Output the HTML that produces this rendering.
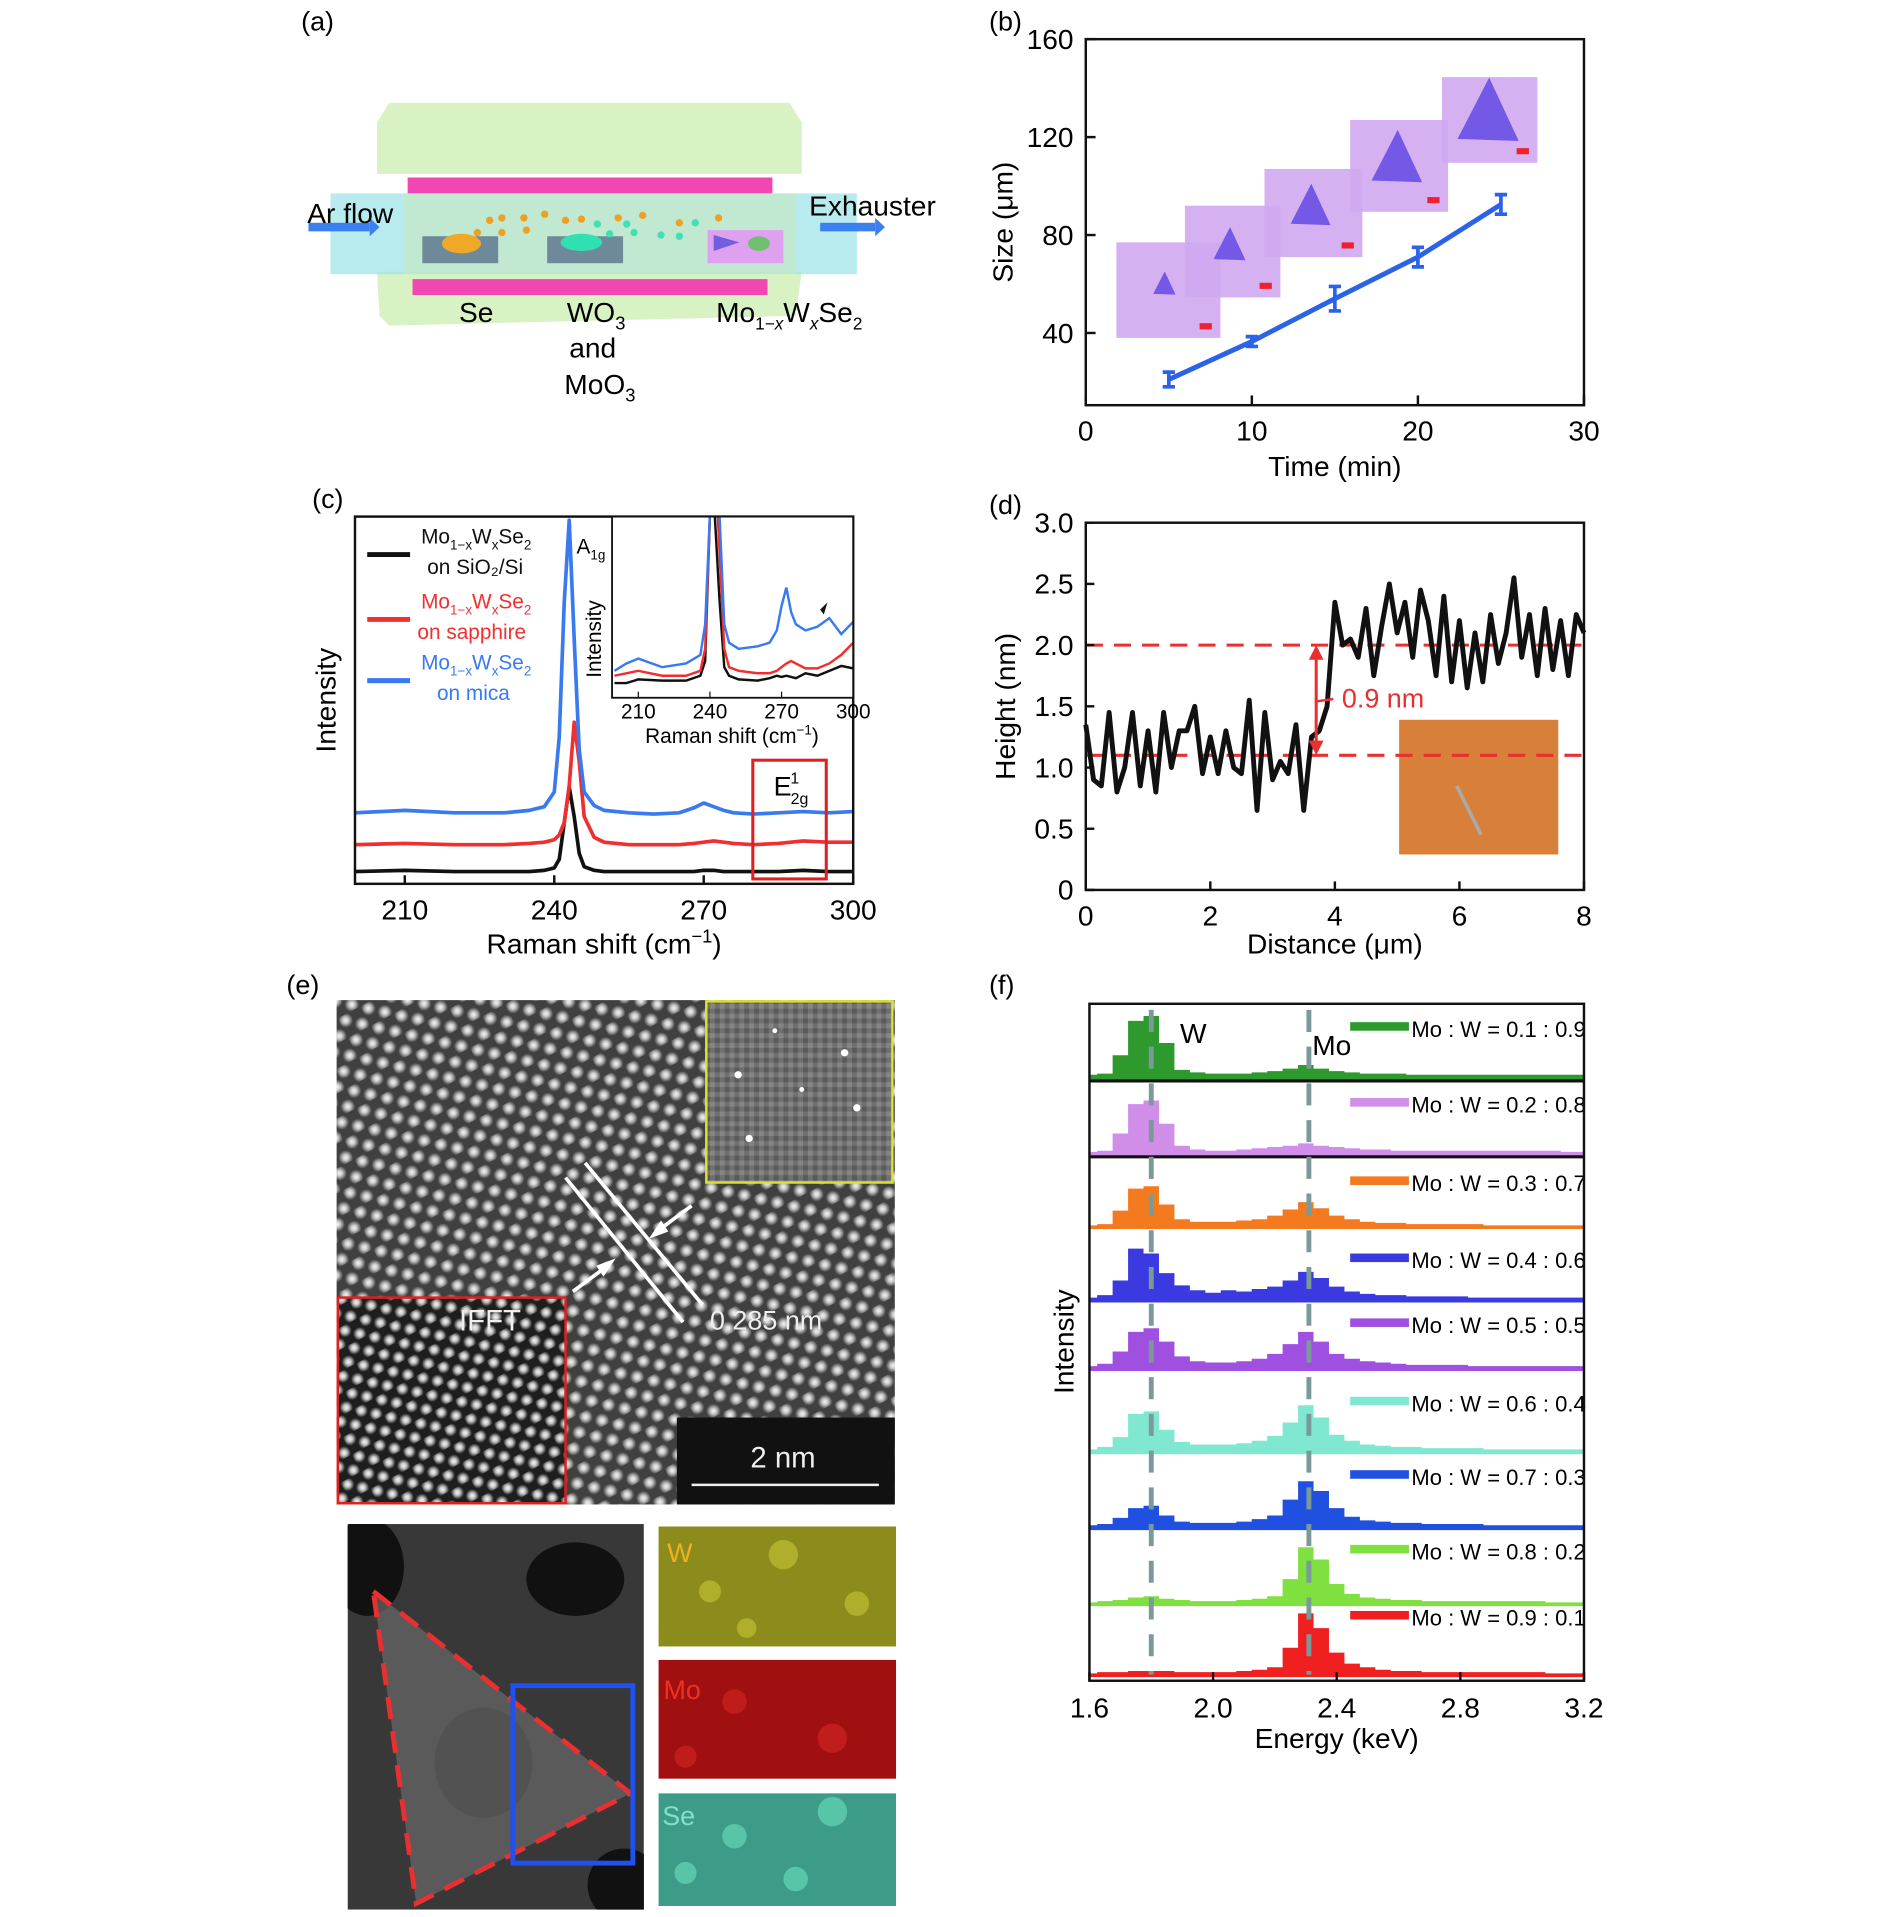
<!DOCTYPE html>
<html><head><meta charset="utf-8">
<style>
html,body{margin:0;padding:0;background:#fff;}
svg{display:block;font-family:"Liberation Sans",Arial,sans-serif;}
</style></head>
<body>
<svg id="fig" width="1890" height="1917" viewBox="0 0 1544 1566" preserveAspectRatio="none" xmlns="http://www.w3.org/2000/svg">
<defs>
  <radialGradient id="dotg"><stop offset="0" stop-color="#f4f4f4"/><stop offset="0.4" stop-color="#c8c8c8"/><stop offset="1" stop-color="#c8c8c8" stop-opacity="0"/></radialGradient>
  <pattern id="lattice" width="21" height="18" patternUnits="userSpaceOnUse" patternTransform="rotate(-28)">
    <rect width="21" height="18" fill="#404040"/>
    <circle cx="5" cy="4.5" r="6" fill="url(#dotg)"/>
    <circle cx="15.5" cy="13.5" r="6" fill="url(#dotg)"/>
  </pattern>
  <pattern id="lattice2" width="19" height="16" patternUnits="userSpaceOnUse" patternTransform="rotate(-28)">
    <rect width="19" height="16" fill="#1e1e1e"/>
    <circle cx="4.5" cy="4" r="5.5" fill="url(#dotg)"/>
    <circle cx="14" cy="12" r="5.5" fill="url(#dotg)"/>
  </pattern>
  <pattern id="noise" width="8" height="8" patternUnits="userSpaceOnUse">
    <rect width="8" height="8" fill="#707070"/><rect width="4" height="4" fill="#5a5a5a"/><rect x="4" y="4" width="4" height="4" fill="#858585"/>
  </pattern>
  <clipPath id="clipC"><rect x="290" y="422" width="407" height="300"/></clipPath>
  <clipPath id="clipCi"><rect x="500" y="422" width="197" height="148"/></clipPath>
  <clipPath id="clipF"><rect x="890" y="820" width="404" height="553"/></clipPath>
  <clipPath id="clipStem"><rect x="284" y="1245" width="242" height="315"/></clipPath>
</defs>

<!-- ===== Panel (a) ===== -->
<g>
  <text x="246" y="25" font-size="22">(a)</text>
  <polygon points="318,84 645,84 655,100 655,142 308,142 308,100" fill="#d8f2c4"/>
  <polygon points="308,222 655,222 650,258 318,266 310,258" fill="#d8f2c4"/>
  <rect x="333" y="145" width="298" height="13" fill="#f048b0"/>
  <rect x="337" y="228" width="290" height="13" fill="#f048b0"/>
  <rect x="270" y="158" width="430" height="66" fill="#9fe4e8" opacity="0.75"/>
  <rect x="330" y="158" width="320" height="66" fill="#c8e8c0" opacity="0.6"/>
  <rect x="345" y="193" width="62" height="22" fill="#6e8a9a"/>
  <ellipse cx="377" cy="199" rx="16" ry="8" fill="#f0a828"/>
  <rect x="447" y="193" width="62" height="22" fill="#6e8a9a"/>
  <ellipse cx="475" cy="198" rx="17" ry="7" fill="#30e0b0"/>
  <rect x="578" y="188" width="62" height="27" fill="#e0a0f0"/>
  <polygon points="583,192 583,205 604,198" fill="#7060e0"/>
  <ellipse cx="620" cy="199" rx="9" ry="6" fill="#70c070"/>
  <g fill="#f0a020">
    <circle cx="400" cy="180" r="3"/><circle cx="410" cy="178" r="3"/><circle cx="390" cy="190" r="3"/><circle cx="428" cy="178" r="3"/><circle cx="445" cy="175" r="3"/><circle cx="462" cy="180" r="3"/><circle cx="475" cy="179" r="3"/><circle cx="505" cy="178" r="3"/><circle cx="525" cy="176" r="3"/><circle cx="555" cy="182" r="3"/><circle cx="587" cy="178" r="3"/><circle cx="410" cy="190" r="3"/><circle cx="430" cy="188" r="3"/>
  </g>
  <g fill="#40e0b0">
    <circle cx="488" cy="183" r="3"/><circle cx="512" cy="183" r="3"/><circle cx="498" cy="191" r="3"/><circle cx="518" cy="190" r="3"/><circle cx="540" cy="192" r="3"/><circle cx="568" cy="182" r="3"/><circle cx="555" cy="193" r="3"/>
  </g>
  <rect x="252" y="182" width="50" height="7" fill="#3a80f0"/><polygon points="302,178 310,185.5 302,193" fill="#3a80f0"/>
  <rect x="670" y="182" width="45" height="7" fill="#3a80f0"/><polygon points="715,178 723,185.5 715,193" fill="#3a80f0"/>
  <text x="251" y="182" font-size="23">Ar flow</text>
  <text x="661" y="176" font-size="23">Exhauster</text>
  <text x="375" y="263" font-size="23">Se</text>
  <text x="463" y="263" font-size="23">WO<tspan font-size="15" dy="6">3</tspan></text>
  <text x="465" y="292" font-size="23">and</text>
  <text x="461" y="322" font-size="23">MoO<tspan font-size="15" dy="6">3</tspan></text>
  <text x="585" y="263" font-size="23">Mo<tspan font-size="14" dy="6">1−<tspan font-style="italic">x</tspan></tspan><tspan dy="-6">W</tspan><tspan font-size="14" dy="6" font-style="italic">x</tspan><tspan dy="-6">Se</tspan><tspan font-size="14" dy="6">2</tspan></text>
</g>

<!-- ===== Panel (b) ===== -->
<g id="panelB">
  <text x="808" y="25" font-size="22">(b)</text>
</g>

<!-- ===== Panel (c) ===== -->
<g id="panelC">
  <text x="255" y="415" font-size="22">(c)</text>
</g>

<!-- ===== Panel (d) ===== -->
<g id="panelD">
  <text x="808" y="420" font-size="22">(d)</text>
</g>

<!-- ===== Panel (e) ===== -->
<g>
  <text x="234" y="812" font-size="22">(e)</text>
  <rect x="275" y="817" width="456" height="412" fill="url(#lattice)"/>
  <rect x="577" y="818" width="152" height="148" fill="url(#noise)" stroke="#e0e030" stroke-width="2"/>
  <g fill="#fff"><circle cx="603" cy="878" r="3"/><circle cx="700" cy="905" r="3"/><circle cx="633" cy="842" r="2"/><circle cx="612" cy="930" r="3"/><circle cx="690" cy="860" r="3"/><circle cx="655" cy="890" r="2"/></g>
  <rect x="276" y="1060" width="186" height="168" fill="url(#lattice2)" stroke="#e02020" stroke-width="2"/>
  <text x="375" y="1087" font-size="24" fill="#eee">IFFT</text>
  <rect x="553" y="1158" width="178" height="71" fill="#111"/>
  <text x="613" y="1199" font-size="24" fill="#eee">2 nm</text>
  <line x1="565" y1="1213" x2="718" y2="1213" stroke="#eee" stroke-width="2"/>
  <line x1="462" y1="962" x2="558" y2="1080" stroke="#fff" stroke-width="3"/>
  <line x1="478" y1="950" x2="574" y2="1066" stroke="#fff" stroke-width="3"/>
  <line x1="565" y1="985" x2="538" y2="1005" stroke="#fff" stroke-width="3"/><polygon points="530,1012 540,997 546,1006" fill="#fff"/>
  <line x1="468" y1="1055" x2="495" y2="1035" stroke="#fff" stroke-width="3"/><polygon points="503,1028 493,1043 487,1034" fill="#fff"/>
  <text x="580" y="1086" font-size="22" fill="#eee">0.285 nm</text>

  <g clip-path="url(#clipStem)">
  <rect x="284" y="1245" width="242" height="315" fill="#383838"/>
  <ellipse cx="300" cy="1280" rx="30" ry="40" fill="#111"/><ellipse cx="470" cy="1290" rx="40" ry="30" fill="#111"/><ellipse cx="510" cy="1540" rx="30" ry="30" fill="#111"/><ellipse cx="395" cy="1440" rx="40" ry="45" fill="#1a1a1a"/>
  <polygon points="305,1300 515,1465 340,1555" fill="#666" opacity="0.75"/>
  <polygon points="305,1300 515,1465 340,1555" fill="none" stroke="#e83030" stroke-width="4" stroke-dasharray="18,10"/>
  <rect x="419" y="1377" width="98" height="145" fill="none" stroke="#2050f0" stroke-width="4"/>
  </g>
  <rect x="538" y="1247" width="194" height="98" fill="#8c8c1c"/>
  <g fill="#b8b830" opacity="0.8"><circle cx="580" cy="1300" r="9"/><circle cx="640" cy="1270" r="12"/><circle cx="700" cy="1310" r="10"/><circle cx="610" cy="1330" r="8"/></g>
  <text x="545" y="1276" font-size="22" fill="#f0b020">W</text>
  <rect x="538" y="1356" width="194" height="97" fill="#a01010"/>
  <g fill="#c82020" opacity="0.8"><circle cx="600" cy="1390" r="10"/><circle cx="680" cy="1420" r="12"/><circle cx="560" cy="1435" r="9"/></g>
  <text x="542" y="1388" font-size="22" fill="#f03020">Mo</text>
  <rect x="538" y="1465" width="194" height="92" fill="#3c9c88"/>
  <g fill="#60d0b0" opacity="0.8"><circle cx="600" cy="1500" r="10"/><circle cx="680" cy="1480" r="12"/><circle cx="650" cy="1535" r="10"/><circle cx="560" cy="1530" r="9"/></g>
  <text x="541" y="1491" font-size="22" fill="#80e0c8">Se</text>
</g>

<!-- ===== Panel (f) ===== -->
<g id="panelF">
  <text x="808" y="812" font-size="22">(f)</text>
</g>
</svg>

<script>
const NS='http://www.w3.org/2000/svg';
function mk(parent,tag,attrs,text){const e=document.createElementNS(NS,tag);for(const k in attrs)e.setAttribute(k,attrs[k]);if(text!==undefined)e.textContent=text;parent.appendChild(e);return e;}

/* ---------- Panel B data ---------- */
const bTimes=[5,10,15,20,25];
const bSizes=[21,36.5,54,71,92.5];
const bErrors=[3,2,5,4,4];
const bXTicks=[0,10,20,30];
const bYTicks=[40,80,120,160];

/* ---------- Panel C data ---------- */
const cShift=[200,210,220,230,235,238,240,241,242,243,244,245,246,248,250,255,260,265,268,270,272,274,276,280,285,290,295,300];
const cBlack=[10,11,10,10,10,11,13,20,50,79,55,25,14,11,10,10,10,10,10,11,11,10,10,10,10,11,10,10];
const cRed=[32,33,32,32,33,34,36,40,50,80,132,100,55,38,34,32,32,32,33,34,35,34,33,32,33,35,34,34];
const cBlue=[58,60,58,58,60,63,75,120,230,297,200,110,75,64,60,58,57,58,62,66,63,60,58,57,58,59,58,59];
const cXTicks=[210,240,270,300];
const ciShift=[200,205,210,220,230,236,238,240,241,242,244,246,248,252,260,265,268,270,272,274,276,280,285,290,295,300];
const ciBlue=[22,28,32,25,28,35,60,150,200,200,150,60,45,40,42,45,55,75,90,70,60,55,58,65,52,62];
const ciRed=[18,20,22,18,18,22,40,150,200,200,120,40,25,22,20,20,22,25,28,30,28,24,24,28,35,45];
const ciBlack=[12,12,15,14,14,18,30,150,200,150,80,25,18,15,14,16,18,17,18,17,16,20,18,22,26,24];

/* ---------- Panel D data ---------- */
const dDist=[0,0.125,0.25,0.375,0.5,0.625,0.75,0.875,1,1.125,1.25,1.375,1.5,1.625,1.75,1.875,2,2.125,2.25,2.375,2.5,2.625,2.75,2.875,3,3.125,3.25,3.375,3.5,3.625,3.75,3.875,4,4.125,4.25,4.375,4.5,4.625,4.75,4.875,5,5.125,5.25,5.375,5.5,5.625,5.75,5.875,6,6.125,6.25,6.375,6.5,6.625,6.75,6.875,7,7.125,7.25,7.375,7.5,7.625,7.75,7.875,8];
const dHeight=[1.35,0.9,0.85,1.45,0.8,1.0,1.45,0.85,1.3,0.8,1.45,1.0,1.3,1.3,1.5,0.95,1.25,0.95,1.3,1.0,0.95,1.55,0.65,1.45,0.9,1.05,0.95,1.35,0.65,1.25,1.3,1.5,2.35,2.0,2.05,1.9,2.3,1.75,2.15,2.5,2.1,2.35,1.9,2.45,2.2,1.75,2.4,1.7,2.2,1.65,2.1,1.7,2.25,1.85,2.1,2.55,1.9,2.25,1.75,2.3,1.8,2.2,1.75,2.25,2.1];
const dLevels=[2.0,1.1];
const dXTicks=[0,2,4,6,8];
const dYTicks=[0,0.5,1.0,1.5,2.0,2.5,3.0];
const dYTickLabels=['0','0.5','1.0','1.5','2.0','2.5','3.0'];

/* ---------- Panel F data ---------- */
const fEnergyStart=1.6, fEnergyStep=0.05;
const fLabels=['Mo : W = 0.1 : 0.9','Mo : W = 0.2 : 0.8','Mo : W = 0.3 : 0.7','Mo : W = 0.4 : 0.6','Mo : W = 0.5 : 0.5','Mo : W = 0.6 : 0.4','Mo : W = 0.7 : 0.3','Mo : W = 0.8 : 0.2','Mo : W = 0.9 : 0.1'];
const fS1=[4,5,20,48,52,30,8,6,5,5,5,6,7,9,12,9,7,6,5,5,5,4,4,4,4,4,4,4,4,4,4,4,4];
const fS2=[3,4,18,42,45,26,8,5,4,4,5,6,7,8,10,8,7,6,5,5,4,4,4,4,4,4,4,4,4,4,4,3,3];
const fS3=[3,4,15,33,35,20,8,6,6,6,7,8,11,16,22,17,11,8,6,5,5,4,4,4,4,4,3,3,3,3,3,3,3];
const fS4=[4,6,18,44,40,24,14,10,8,10,9,11,13,18,25,20,13,9,7,6,6,5,5,5,5,4,4,4,4,4,4,4,4];
const fS5=[4,6,16,32,35,24,12,8,7,7,8,10,14,22,32,24,14,10,8,7,6,5,5,5,5,4,4,4,4,4,4,4,4];
const fS6=[4,6,14,33,35,20,10,8,8,8,9,11,15,26,40,30,16,11,8,7,6,6,5,5,5,5,4,4,4,4,4,4,4];
const fS7=[4,5,10,18,20,12,7,6,6,6,7,9,12,25,40,32,18,11,8,7,6,6,5,5,5,5,4,4,4,4,4,4,4];
const fS8=[3,4,5,7,8,6,5,4,4,4,5,6,8,22,48,38,18,10,7,6,5,5,4,4,4,4,4,4,4,4,3,3,3];
const fS9=[3,4,4,5,5,5,4,4,4,4,5,6,8,24,52,40,20,11,8,6,5,5,4,4,4,4,4,4,4,4,3,3,3];
const fXTicks=[1.6,2.0,2.4,2.8,3.2];
const fXTickLabels=['1.6','2.0','2.4','2.8','3.2'];
const fPeakW=1.8, fPeakMo=2.31;

/* ================= Panel B ================= */
(function(){
  const g=document.getElementById('panelB');
  const L=887,R=1294,T=32,B=331, x0=0,x1=30, y0=10.5,y1=160;
  const X=v=>L+(v-x0)/(x1-x0)*(R-L), Y=v=>B-(v-y0)/(y1-y0)*(B-T);
  const ims=[[912,198,85,78,0.42],[968,168,78,75,0.6],[1033,138,80,72,0.75],[1103,98,80,75,0.95],[1178,63,78,70,1.15]];
  ims.forEach((m,i)=>{
    const r=mk(g,'rect',{x:m[0],y:m[1],width:m[2],height:m[3],fill:'#d0a8f0',opacity:0.9});
    
    
    const cx=m[0]+m[2]*0.45, cy=m[1]+m[3]*0.45, s=m[4]*30;
    mk(g,'polygon',{points:`${cx+s*0.1},${cy-s*0.9} ${cx-s*0.65},${cy+s*0.55} ${cx+s*0.8},${cy+s*0.6}`,fill:'#7458e6'});
    mk(g,'rect',{x:m[0]+m[2]-17,y:m[1]+m[3]-12,width:10,height:5,fill:'#f02030'});
  });
  const frame=mk(g,'rect',{x:L,y:T,width:R-L,height:B-T,fill:'none',stroke:'#111','stroke-width':2});
  
  
  bXTicks.forEach(v=>{mk(g,'line',{x1:X(v),y1:B,x2:X(v),y2:B-8,stroke:'#111','stroke-width':2});
    const t=mk(g,'text',{x:X(v),y:B+29,'font-size':23,'text-anchor':'middle'},String(v));
    
    });
  bYTicks.forEach(v=>{mk(g,'line',{x1:L,y1:Y(v),x2:L+8,y2:Y(v),stroke:'#111','stroke-width':2});
    const t=mk(g,'text',{x:L-10,y:Y(v)+8,'font-size':23,'text-anchor':'end'},String(v));
    
    });
  const xt=mk(g,'text',{x:(L+R)/2,y:B+58,'font-size':23,'text-anchor':'middle'},'Time (min)');
  
  
  const yt=mk(g,'text',{x:0,y:0,'font-size':23,'text-anchor':'middle',transform:`translate(827,${(T+B)/2}) rotate(-90)`},'Size (μm)');
  
  
  const line=mk(g,'polyline',{points:bTimes.map((t,i)=>X(t)+','+Y(bSizes[i])).join(' '),fill:'none',stroke:'#2a62e8','stroke-width':4});
  
  
  bTimes.forEach((t,i)=>{
    const e=mk(g,'path',{d:`M${X(t)},${Y(bSizes[i]-bErrors[i])}V${Y(bSizes[i]+bErrors[i])}M${X(t)-5},${Y(bSizes[i]-bErrors[i])}h10M${X(t)-5},${Y(bSizes[i]+bErrors[i])}h10`,stroke:'#2a62e8','stroke-width':3,fill:'none'});
    
    
  });
})();

/* ================= Panel C ================= */
(function(){
  const g=document.getElementById('panelC');
  const L=290,R=697,T=422,B=722,x0=200,x1=300,y0=0,y1=300;
  const X=v=>L+(v-x0)/(x1-x0)*(R-L), Y=v=>B-(v-y0)/(y1-y0)*(B-T);
  const cg=mk(g,'g',{'clip-path':'url(#clipC)'});
  [[cBlack,'#111','spectrum-sio2'],[cRed,'#f03030','spectrum-sapphire'],[cBlue,'#3a7af0','spectrum-mica']].forEach(s=>{
    const p=mk(cg,'polyline',{points:cShift.map((x,i)=>X(x)+','+Y(s[0][i])).join(' '),fill:'none',stroke:s[1],'stroke-width':3,'stroke-linejoin':'round'});
    
    
  });
  const fr=mk(g,'rect',{x:L,y:T,width:R-L,height:B-T,fill:'none',stroke:'#111','stroke-width':2});
  
  
  cXTicks.forEach(v=>{mk(g,'line',{x1:X(v),y1:B,x2:X(v),y2:B-7,stroke:'#111','stroke-width':2});
    const t=mk(g,'text',{x:X(v),y:B+29,'font-size':23,'text-anchor':'middle'},String(v));
    
    });
  const xt=mk(g,'text',{x:(L+R)/2,y:B+57,'font-size':23,'text-anchor':'middle'},'Raman shift (cm');
  mk(xt,'tspan',{'font-size':15,dy:-9},'−1');mk(xt,'tspan',{dy:9},')');
  
  
  const yt=mk(g,'text',{'font-size':23,'text-anchor':'middle',transform:`translate(274,572) rotate(-90)`},'Intensity');
  
  
  const eb=mk(g,'rect',{x:615,y:621,width:60,height:97,fill:'none',stroke:'#e02020','stroke-width':2.5});
  
  
  const e2=mk(g,'text',{x:632,y:650,'font-size':22},'E');
  mk(e2,'tspan',{'font-size':13,dy:-10,dx:-1},'1');mk(e2,'tspan',{'font-size':13,dy:17,dx:-7},'2g');
  
  
  const a1=mk(g,'text',{x:471,y:452,'font-size':17},'A');mk(a1,'tspan',{'font-size':11,dy:5},'1g');
  
  
  const leg=[['#111','on SiO₂/Si',437,463],['#f03030','on sapphire',490,516],['#3a7af0','on mica',540,566]];
  leg.forEach((l,i)=>{
    mk(g,'line',{x1:300,y1:l[2]+16,x2:335,y2:l[2]+16,stroke:l[0],'stroke-width':4});
    const t=mk(g,'text',{x:344,y:l[2]+7,'font-size':17,fill:l[0]},'Mo');
    mk(t,'tspan',{'font-size':11,dy:5},'1−x');mk(t,'tspan',{dy:-5},'W');mk(t,'tspan',{'font-size':11,dy:5},'x');mk(t,'tspan',{dy:-5},'Se');mk(t,'tspan',{'font-size':11,dy:5},'2');
    
    
    const t2=mk(g,'text',{x:i==0?349:(i==1?341:357),y:l[3]+6,'font-size':17,fill:l[0]},l[1]);
    
    
  });
  const iL=500,iR=697,iT=422,iB=570,ix0=199,ix1=300;
  const IX=v=>iL+(v-ix0)/(ix1-ix0)*(iR-iL), IY=v=>iB-v;
  mk(g,'rect',{x:iL,y:iT,width:iR-iL,height:iB-iT,fill:'#fff'});
  const ig=mk(g,'g',{'clip-path':'url(#clipCi)'});
  [[ciBlack,'#111'],[ciRed,'#f03030'],[ciBlue,'#3a7af0']].forEach(s=>{
    const p=mk(ig,'polyline',{points:ciShift.map((x,i)=>IX(x)+','+IY(s[0][i])).join(' '),fill:'none',stroke:s[1],'stroke-width':2});
    
    
  });
  const ifr=mk(g,'rect',{x:iL,y:iT,width:iR-iL,height:iB-iT,fill:'none',stroke:'#111','stroke-width':1.5});
  
  
  cXTicks.forEach(v=>{mk(g,'line',{x1:IX(v),y1:iB,x2:IX(v),y2:iB-5,stroke:'#111'});
    const t=mk(g,'text',{x:IX(v),y:iB+17,'font-size':17,'text-anchor':'middle'},String(v));
    
    });
  const ixt=mk(g,'text',{x:598,y:607,'font-size':17,'text-anchor':'middle'},'Raman shift (cm');
  mk(ixt,'tspan',{'font-size':11,dy:-7},'−1');mk(ixt,'tspan',{dy:7},')');
  
  
  const iyt=mk(g,'text',{'font-size':17,'text-anchor':'middle',transform:'translate(491,522) rotate(-90)'},'Intensity');
  
  
  mk(g,'path',{d:'M676,492 l-3,10 l-3,-4 z',fill:'#111'});
})();

/* ================= Panel D ================= */
(function(){
  const g=document.getElementById('panelD');
  const L=887,R=1294,T=427,B=727,x0=0,x1=8,y0=0,y1=3;
  const X=v=>L+(v-x0)/(x1-x0)*(R-L), Y=v=>B-(v-y0)/(y1-y0)*(B-T);
  const im=mk(g,'rect',{x:1143,y:588,width:130,height:110,fill:'#d8803a'});
  
  
  mk(g,'line',{x1:1190,y1:642,x2:1210,y2:682,stroke:'#aaa','stroke-width':3});
  dLevels.forEach(v=>{const l=mk(g,'line',{x1:L,y1:Y(v),x2:R,y2:Y(v),stroke:'#e83030','stroke-width':2.5,'stroke-dasharray':'14,9'});
    
    });
  const p=mk(g,'polyline',{points:dDist.map((x,i)=>X(x)+','+Y(dHeight[i])).join(' '),fill:'none',stroke:'#111','stroke-width':4,'stroke-linejoin':'round'});
  
  
  const ax=X(3.7);
  mk(g,'line',{x1:ax,y1:Y(dLevels[0])+10,x2:ax,y2:Y(dLevels[1])-10,stroke:'#e83030','stroke-width':2.5});
  mk(g,'polygon',{points:`${ax-6},${Y(dLevels[0])+12} ${ax+6},${Y(dLevels[0])+12} ${ax},${Y(dLevels[0])}`,fill:'#e83030'});
  mk(g,'polygon',{points:`${ax-6},${Y(dLevels[1])-12} ${ax+6},${Y(dLevels[1])-12} ${ax},${Y(dLevels[1])}`,fill:'#e83030'});
  mk(g,'line',{x1:ax,y1:573,x2:ax+14,y2:571,stroke:'#e83030','stroke-width':2});
  const lab=mk(g,'text',{x:ax+21,y:578,'font-size':22,fill:'#e83030'},'0.9 nm');
  
  
  const fr=mk(g,'rect',{x:L,y:T,width:R-L,height:B-T,fill:'none',stroke:'#111','stroke-width':2});
  
  
  dXTicks.forEach(v=>{mk(g,'line',{x1:X(v),y1:B,x2:X(v),y2:B-7,stroke:'#111','stroke-width':2});
    const t=mk(g,'text',{x:X(v),y:B+29,'font-size':23,'text-anchor':'middle'},String(v));
    
    });
  dYTicks.forEach((v,i)=>{mk(g,'line',{x1:L,y1:Y(v),x2:L+7,y2:Y(v),stroke:'#111','stroke-width':2});
    const t=mk(g,'text',{x:L-10,y:Y(v)+8,'font-size':23,'text-anchor':'end'},dYTickLabels[i]);
    
    });
  const xt=mk(g,'text',{x:(L+R)/2,y:B+52,'font-size':23,'text-anchor':'middle'},'Distance (μm)');
  
  
  const yt=mk(g,'text',{'font-size':23,'text-anchor':'middle',transform:`translate(829,${(T+B)/2}) rotate(-90)`},'Height (nm)');
  
  
})();

/* ================= Panel F ================= */
(function(){
  const g=document.getElementById('panelF');
  const L=890,R=1294,T=820,B=1373,x0=1.6,x1=3.2;
  const X=v=>L+(v-x0)/(x1-x0)*(R-L);
  const series=[fS1,fS2,fS3,fS4,fS5,fS6,fS7,fS8,fS9];
  const colors=['#2e9a2e','#d08ee8','#f47a20','#3a3ae0','#a050e0','#80e8d0','#2050e0','#80e040','#f02020'];
  const bases=[882,944,1004,1064,1120,1188,1250,1312,1370];
  const labelY=[847,909,973,1036,1089,1153,1213,1274,1328];
  const cg=mk(g,'g',{'clip-path':'url(#clipF)'});
  series.forEach((s,k)=>{
    let d=`M${X(x0)},${bases[k]}`;
    s.forEach((v,i)=>{const e0=fEnergyStart+i*fEnergyStep-fEnergyStep/2, e1=e0+fEnergyStep;
      d+=`L${X(Math.max(e0,x0))},${bases[k]-v}L${X(Math.min(e1,x1))},${bases[k]-v}`;});
    d+=`L${X(x1)},${bases[k]}Z`;
    const a=mk(cg,'path',{d:d,fill:colors[k]});
    
    
    const sw=mk(g,'rect',{x:1103,y:labelY[k]-12,width:48,height:7,fill:colors[k]});
    
    
    const t=mk(g,'text',{x:1153,y:labelY[k],'font-size':18},fLabels[k]);
    
    
  });
  mk(g,'line',{x1:L,y1:883,x2:R,y2:883,stroke:'#111','stroke-width':2.5});
  mk(g,'line',{x1:L,y1:945,x2:R,y2:945,stroke:'#111','stroke-width':2.5});
  [fPeakW,fPeakMo].forEach(v=>{const l=mk(g,'line',{x1:X(v),y1:825,x2:X(v),y2:1368,stroke:'#7a9a9a','stroke-width':4,'stroke-dasharray':'18,12'});
    
    });
  const tw=mk(g,'text',{x:964,y:852,'font-size':23},'W');
  const tm=mk(g,'text',{x:1072,y:862,'font-size':23},'Mo');
  const fr=mk(g,'rect',{x:L,y:T,width:R-L,height:B-T,fill:'none',stroke:'#111','stroke-width':2});
  
  
  fXTicks.forEach((v,i)=>{mk(g,'line',{x1:X(v),y1:B,x2:X(v),y2:B-7,stroke:'#111','stroke-width':2});
    const t=mk(g,'text',{x:X(v),y:B+30,'font-size':23,'text-anchor':'middle'},fXTickLabels[i]);
    
    });
  const xt=mk(g,'text',{x:(L+R)/2,y:B+55,'font-size':23,'text-anchor':'middle'},'Energy (keV)');
  
  
  const yt=mk(g,'text',{'font-size':23,'text-anchor':'middle',transform:`translate(877,1096) rotate(-90)`},'Intensity');
  
  
})();
</script>
</body></html>
